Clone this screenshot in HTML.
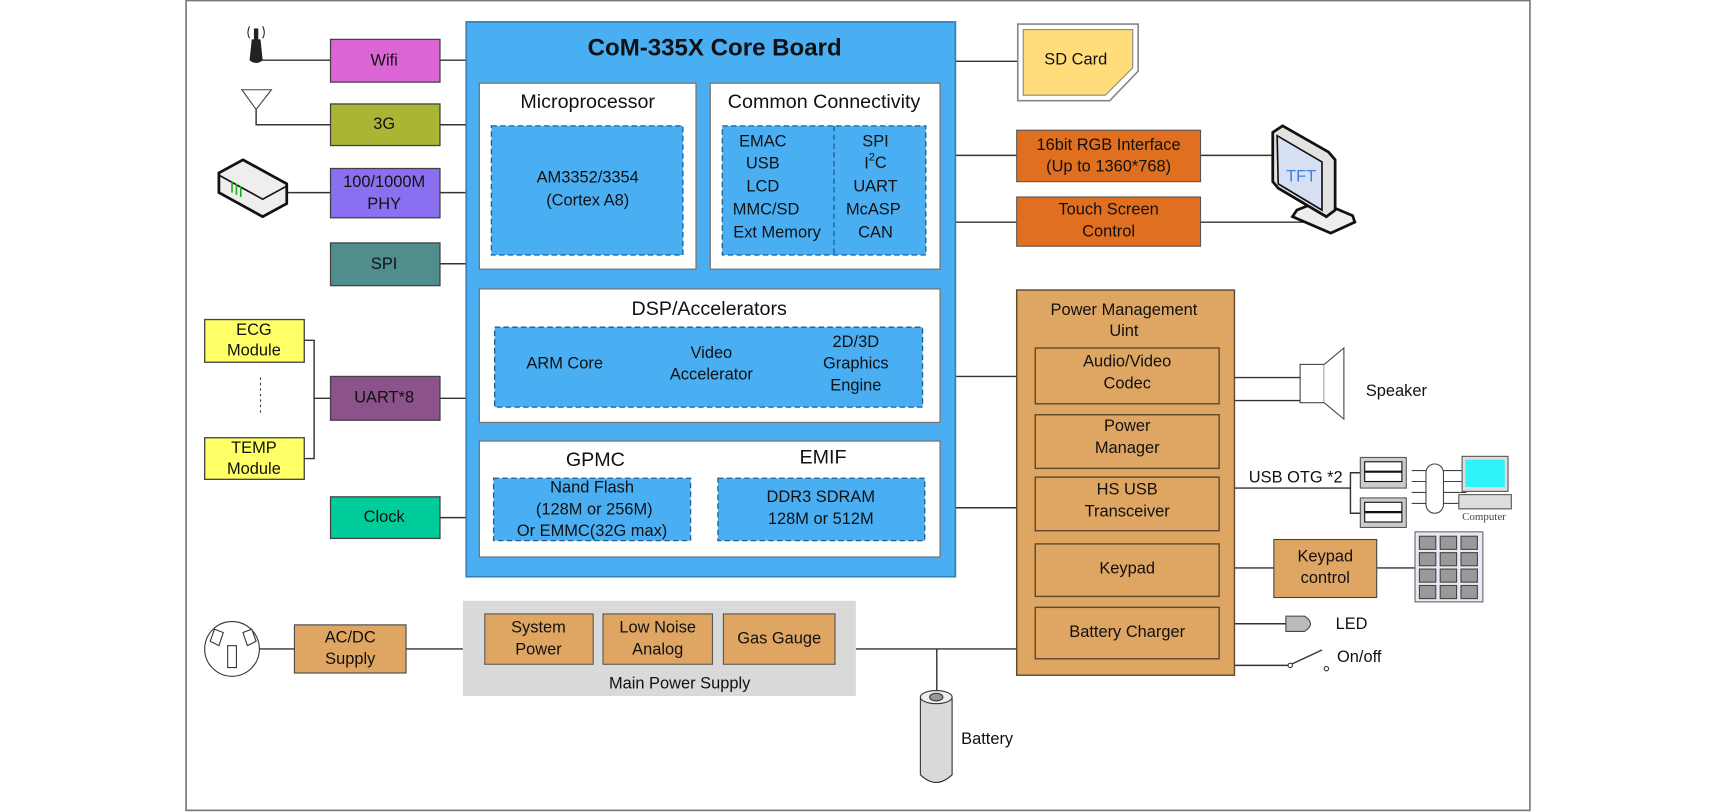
<!DOCTYPE html>
<html><head><meta charset="utf-8"><style>
html,body{margin:0;padding:0;background:#fff;}
svg{display:block}
text{font-family:"Liberation Sans",sans-serif;font-size:15px;fill:#111;text-anchor:middle;dominant-baseline:middle}
</style></head><body>
<svg width="1716" height="812" viewBox="0 0 1568 742" xmlns="http://www.w3.org/2000/svg">
<rect x="170" y="0.5" width="1228" height="740" fill="#fff" stroke="#777" stroke-width="1.5"/>
<g stroke="#333" stroke-width="1.3" fill="none">
<path d="M236 55H302M402 55H426"/>
<path d="M234 82V114H302M402 114H426"/>
<path d="M262 176H302M402 176H426"/>
<path d="M402 241H426"/>
<path d="M278 311H287V419H278M287 364H302M402 364H426"/>
<path d="M402 473H426"/>
<path d="M873 56H930"/>
<path d="M873 142H929M1097 142H1165"/>
<path d="M873 203H929M1097 203H1200"/>
<path d="M873 344H929M873 464H929"/>
<path d="M1128 345H1188M1128 366H1188"/>
<path d="M1128 446H1234M1234 446V432H1243M1234 446V469H1243"/>
<path d="M1128 519H1164M1258 519H1293"/>
<path d="M1128 570H1175"/>
<path d="M1128 608H1177M1180 607L1208 594"/>
<path d="M220 593H269M371 593H423M782 593H929M856 593V632"/>
</g>
<circle cx="1179" cy="608" r="2" fill="#fff" stroke="#333"/><circle cx="1212" cy="611" r="2" fill="#fff" stroke="#333"/>
<rect x="426" y="20" width="447" height="507" fill="#4AAFF2" stroke="#2F7FB8" stroke-width="1.5"/>
<text x="653" y="45" style="font-size:22px;font-weight:bold">CoM-335X Core Board</text>
<g stroke="#777" stroke-width="1.2" fill="#fff">
<rect x="438" y="76" width="198" height="170"/>
<rect x="649" y="76" width="210" height="170"/>
<rect x="438" y="264" width="421" height="122"/>
<rect x="438" y="403" width="421" height="106"/>
</g>
<g stroke="#1F5F8F" stroke-width="1.2" fill="#4AAFF2" stroke-dasharray="5,3">
<rect x="449" y="115" width="175" height="118"/>
<rect x="660" y="115" width="186" height="118"/>
<rect x="452" y="299" width="391" height="73"/>
<rect x="451" y="437" width="180" height="57"/>
<rect x="656" y="437" width="189" height="57"/>
<path d="M762 115V233" fill="none"/>
</g>
<text x="537" y="94" style="font-size:18px">Microprocessor</text>
<text x="753" y="94" style="font-size:18px">Common Connectivity</text>
<text x="537" y="163">AM3352/3354</text><text x="537" y="184">(Cortex A8)</text>
<text x="697" y="130">EMAC</text><text x="697" y="150">USB</text><text x="697" y="171">LCD</text><text x="700" y="192">MMC/SD</text><text x="710" y="213">Ext Memory</text>
<text x="800" y="130">SPI</text><text x="800" y="150">I<tspan dy="-6" style="font-size:10px">2</tspan><tspan dy="6">C</tspan></text><text x="800" y="171">UART</text><text x="798" y="192">McASP</text><text x="800" y="213">CAN</text>
<text x="648" y="283" style="font-size:18px">DSP/Accelerators</text>
<text x="516" y="333">ARM Core</text><text x="650" y="323">Video</text><text x="650" y="343">Accelerator</text>
<text x="782" y="313">2D/3D</text><text x="782" y="333">Graphics</text><text x="782" y="353">Engine</text>
<text x="544" y="421" style="font-size:18px">GPMC</text><text x="752" y="419" style="font-size:18px">EMIF</text>
<text x="541" y="446">Nand Flash</text><text x="543" y="466">(128M or 256M)</text><text x="541" y="486">Or EMMC(32G max)</text>
<text x="750" y="455">DDR3 SDRAM</text><text x="750" y="475">128M or 512M</text>
<g stroke="#444" stroke-width="1.2">
<rect x="302" y="36" width="100" height="39" fill="#DD66D6"/>
<rect x="302" y="95" width="100" height="38" fill="#AAB535"/>
<rect x="302" y="154" width="100" height="45" fill="#8A70F0"/>
<rect x="302" y="222" width="100" height="39" fill="#4F8E8C"/>
<rect x="302" y="344" width="100" height="40" fill="#8B528B"/>
<rect x="302" y="454" width="100" height="38" fill="#00CC99"/>
<rect x="187" y="292" width="91" height="39" fill="#FFFF66"/>
<rect x="187" y="400" width="91" height="38" fill="#FFFF66"/>
</g>
<text x="351" y="56">Wifi</text><text x="351" y="114">3G</text>
<text x="351" y="167">100/1000M</text><text x="351" y="187">PHY</text>
<text x="351" y="242">SPI</text><text x="351" y="364">UART*8</text><text x="351" y="473">Clock</text>
<text x="232" y="302">ECG</text><text x="232" y="321">Module</text>
<text x="232" y="410">TEMP</text><text x="232" y="429">Module</text>
<path d="M238 345V380" stroke="#333" stroke-dasharray="2,3"/>
<path d="M230 36L228 55Q234 60 240 55L238 36Z" fill="#222"/><rect x="232" y="26" width="4" height="12" fill="#222"/>
<path d="M228 24Q225 30 228 35M240 24Q243 30 240 35" stroke="#222" fill="none"/>
<path d="M221 82H248L234 100Z" fill="#fff" stroke="#444"/>
<path d="M200 158L222 146L262 168V186L240 198L200 176Z" fill="#eee" stroke="#111" stroke-width="2.5"/>
<path d="M200 160L240 182L262 170" stroke="#111" fill="none" stroke-width="1.5"/>
<path d="M212 166V176M216 168V178M220 170V180" stroke="#2A2" stroke-width="1.5"/>
<circle cx="212" cy="593" r="25" fill="#fff" stroke="#333"/>
<rect x="208" y="590" width="8" height="20" fill="#fff" stroke="#333"/>
<path d="M196 575L204 578L200 590L192 586Z M222 578L230 575L234 586L226 590Z" fill="#fff" stroke="#333"/>
<rect x="269" y="571" width="102" height="44" fill="#DFA663" stroke="#444"/>
<text x="320" y="583">AC/DC</text><text x="320" y="603">Supply</text>
<rect x="423" y="549" width="359" height="87" fill="#D9D9D9"/>
<g stroke="#555" fill="#DFA663"><rect x="443" y="561" width="99" height="46"/><rect x="551" y="561" width="100" height="46"/><rect x="661" y="561" width="102" height="46"/></g>
<text x="492" y="574">System</text><text x="492" y="594">Power</text>
<text x="601" y="574">Low Noise</text><text x="601" y="594">Analog</text>
<text x="712" y="584">Gas Gauge</text>
<text x="621" y="625">Main Power Supply</text>
<path d="M841 637V708Q855 722 870 708V637" fill="#D9D9D9" stroke="#333"/>
<ellipse cx="855.5" cy="637" rx="14.5" ry="6" fill="#eee" stroke="#333"/><ellipse cx="855.5" cy="637" rx="6" ry="3.5" fill="#999" stroke="#333"/>
<text x="902" y="676">Battery</text>
<path d="M930 22H1040V65L1014 92H930Z" fill="#fff" stroke="#888" stroke-width="1.5"/>
<path d="M935 27H1035V62L1010 87H935Z" fill="#FFDD7A" stroke="#888"/>
<text x="983" y="55">SD Card</text>
<g stroke="#555" fill="#E07020"><rect x="929" y="119" width="168" height="47"/><rect x="929" y="180" width="168" height="45"/></g>
<text x="1013" y="133">16bit RGB Interface</text><text x="1013" y="153">(Up to 1360*768)</text>
<text x="1013" y="192">Touch Screen</text><text x="1013" y="212">Control</text>
<!-- TFT -->
<path d="M1185 192L1181 198L1216 213L1238 203L1236 197L1205 184Z" fill="#eee" stroke="#111" stroke-width="2.5"/>
<path d="M1163 121L1172 115L1214 139L1220 146V192L1212 198L1168 172L1163 166Z" fill="#e2e2e2" stroke="#111" stroke-width="2.5"/>
<path d="M1167 124L1208 148V192L1168 168Z" fill="#D7DFF2" stroke="#111" stroke-width="1.5"/>
<text x="1189" y="162" style="fill:#3C7FE0;font-size:15px">TFT</text>
<rect x="929" y="265" width="199" height="352" fill="#DFA663" stroke="#5C4A30" stroke-width="1.3"/>
<text x="1027" y="284">Power Management</text><text x="1027" y="303">Uint</text>
<g stroke="#5C4A30" stroke-width="1.3" fill="#DFA663">
<rect x="946" y="318" width="168" height="51"/><rect x="946" y="379" width="168" height="49"/>
<rect x="946" y="436" width="168" height="49"/><rect x="946" y="497" width="168" height="48"/>
<rect x="946" y="555" width="168" height="47"/>
</g>
<text x="1030" y="331">Audio/Video</text><text x="1030" y="351">Codec</text>
<text x="1030" y="390">Power</text><text x="1030" y="410">Manager</text>
<text x="1030" y="448">HS USB</text><text x="1030" y="468">Transceiver</text>
<text x="1030" y="520">Keypad</text><text x="1030" y="578">Battery Charger</text>
<rect x="1188" y="333" width="22" height="35" fill="#fff" stroke="#444"/>
<path d="M1210 333L1228 318V383L1210 368" fill="#fff" stroke="#444"/>
<text x="1276" y="358">Speaker</text>
<text x="1184" y="437">USB OTG *2</text>
<g stroke="#555" fill="#ccc"><rect x="1243" y="418" width="42" height="28"/><rect x="1243" y="455" width="42" height="27"/></g>
<g stroke="#111" fill="#fff"><rect x="1247" y="422" width="34" height="18"/><rect x="1247" y="459" width="34" height="18"/></g>
<path d="M1247 431H1281M1247 468H1281" stroke="#111" stroke-width="2"/>
<path d="M1290 430H1340M1290 440H1340M1290 450H1340M1290 460H1340" stroke="#444"/>
<rect x="1303" y="424" width="16" height="45" rx="8" fill="#fff" stroke="#444"/>
<rect x="1336" y="417" width="42" height="32" fill="#ddd" stroke="#555"/><rect x="1339" y="420" width="36" height="25" fill="#2EF4F8"/>
<rect x="1333" y="452" width="48" height="13" fill="#ddd" stroke="#555"/>
<text x="1356" y="473" style="font-size:10px;font-family:'Liberation Serif',serif;fill:#444">Computer</text>
<rect x="1164" y="493" width="94" height="53" fill="#DFA663" stroke="#444"/>
<text x="1211" y="509">Keypad</text><text x="1211" y="529">control</text>
<rect x="1293" y="486" width="62" height="64" fill="#E6EAF4" stroke="#666"/>
<g fill="#999" stroke="#444">
<rect x="1297" y="490" width="15" height="12"/><rect x="1316" y="490" width="15" height="12"/><rect x="1335" y="490" width="15" height="12"/>
<rect x="1297" y="505" width="15" height="12"/><rect x="1316" y="505" width="15" height="12"/><rect x="1335" y="505" width="15" height="12"/>
<rect x="1297" y="520" width="15" height="12"/><rect x="1316" y="520" width="15" height="12"/><rect x="1335" y="520" width="15" height="12"/>
<rect x="1297" y="535" width="15" height="12"/><rect x="1316" y="535" width="15" height="12"/><rect x="1335" y="535" width="15" height="12"/>
</g>
<path d="M1175 563H1192Q1203 570 1192 577H1175Z" fill="#bbb" stroke="#444"/>
<text x="1235" y="571">LED</text><text x="1242" y="601">On/off</text>
</svg>
</body></html>
